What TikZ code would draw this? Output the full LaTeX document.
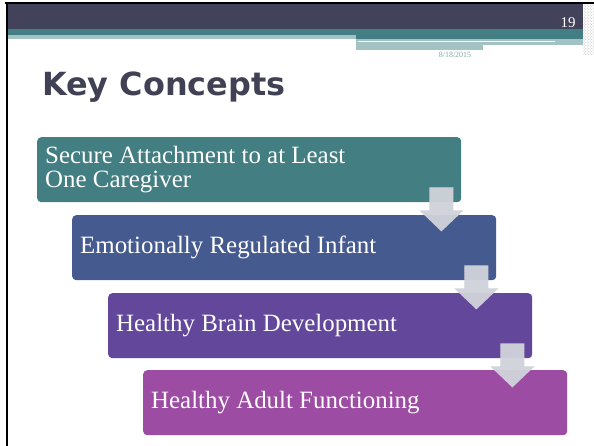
\documentclass[tikz,border=0pt]{standalone}
\usepackage{fontspec}
\setmainfont{Liberation Serif}
\newfontfamily\headfont{DejaVu Sans}
\usetikzlibrary{calc}
\usetikzlibrary{patterns}

\definecolor{bandDark}{HTML}{42435A}
\definecolor{bandTeal}{HTML}{437E84}
\definecolor{stripTeal}{HTML}{A3C2C3}
\definecolor{titleInk}{HTML}{404155}
\definecolor{dateInk}{HTML}{7FA3A5}
\definecolor{boxTeal}{HTML}{437E82}
\definecolor{boxBlue}{HTML}{455A8E}
\definecolor{boxPurple}{HTML}{62479A}
\definecolor{boxMagenta}{HTML}{9C4CA3}
\definecolor{arrowFill}{HTML}{D0D3DC}

\tikzset{
  stepbox/.style={rounded corners=4bp, text=white, anchor=north west,
    minimum width=424bp, minimum height=65bp, text width=408bp,
    inner xsep=8bp, inner ysep=0pt, align=flush left,
    font=\fontsize{25}{24.5}\selectfont},
  pics/downarrow/.style={code={
    \fill[arrowFill, opacity=0.95] (-12,0) -- (12,0) -- (12,23) -- (22,23)
      -- (0,44) -- (-22,23) -- (-12,23) -- cycle;
    \fill[pattern=crosshatch dots, pattern color=gray!35] (-12,0) -- (12,0) -- (12,23) -- (22,23)
      -- (0,44) -- (-22,23) -- (-12,23) -- cycle;}}
}

\begin{document}
\begin{tikzpicture}[x=1bp,y=-1bp]
  \useasboundingbox (0,0) rectangle (594,446);
  % slide header
  \fill[bandDark] (8,4) rectangle (583,29);
  \fill[bandTeal] (8,29) rectangle (583,35.5);
  \fill[bandTeal] (356,35.5) rectangle (583,39);
  \fill[stripTeal] (8,35.5) rectangle (356,39);
  \fill[stripTeal] (356,39) rectangle (583,45);
  \fill[stripTeal] (356,45) rectangle (483,50);
  \draw[white, line width=1.2bp] (358,41.8) -- (555,41.8);
  \fill[pattern=crosshatch dots, pattern color=gray!60] (583,4) rectangle (594,55);
  \fill[black] (5,2.5) rectangle (594,4.2);
  \fill[black] (5.5,2.5) rectangle (8,446);
  \node[text=white, anchor=base east, font=\fontsize{15}{15}\selectfont] (pagenum) at (579,27.5) {19};
  \node[text=dateInk, font=\fontsize{8}{8}\selectfont] (date) at (455,55) {8/18/2015};
  \node[text=titleInk, anchor=base west, inner sep=0pt, font=\headfont\bfseries\fontsize{32}{32}\selectfont] (title) at (42,95.7) {Key Concepts};

  % steps
  \node[stepbox, fill=boxTeal] (attach) at (37,137) {Secure Attachment to at Least\\One Caregiver};
  \node[stepbox, fill=boxBlue] (infant) at ($(attach.north west)+(35,78)$) {Emotionally Regulated Infant};
  \node[stepbox, fill=boxPurple] (brain) at ($(infant.north west)+(36,78)$) {Healthy Brain Development};
  \node[stepbox, fill=boxMagenta] (adult) at ($(brain.north west)+(35,77)$) {Healthy Adult Functioning};

  % arrows between the steps
  \pic at ($(attach.south east)+(-20,-15)$) {downarrow};
  \pic at ($(infant.south east)+(-20,-15)$) {downarrow};
  \pic at ($(brain.south east)+(-20,-15)$) {downarrow};
\end{tikzpicture}
\end{document}
